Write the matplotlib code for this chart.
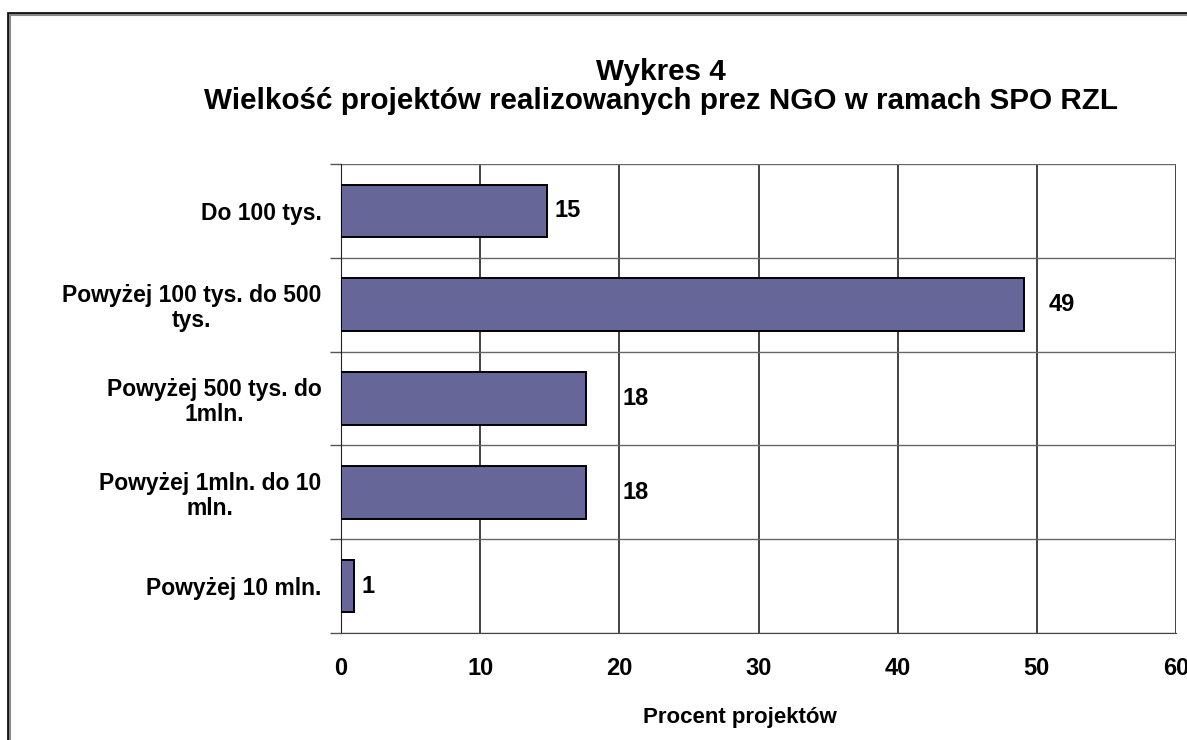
import matplotlib
matplotlib.use("Agg")
import matplotlib.pyplot as plt
from matplotlib.patches import Rectangle
import numpy as np

plt.rcParams["font.family"] = ["Liberation Sans", "DejaVu Sans"]
plt.rcParams["font.weight"] = "bold"

CATEGORIES = [
    "Do 100 tys.",
    "Powyżej 100 tys. do 500\ntys.",
    "Powyżej 500 tys. do\n1mln.",
    "Powyżej 1mln. do 10\nmln.",
    "Powyżej 10 mln.",
]
VALUES = [14.8, 49.1, 17.6, 17.6, 0.9]
LABELS = ["15", "49", "18", "18", "1"]
X_TICKS = [0, 10, 20, 30, 40, 50, 60]

# Excel put the value labels at uneven distances from the bar ends (pixels)
LABEL_PAD_PX = [8, 24, 37, 37, 8]

BAR_COLOR = "#666699"

fig = plt.figure(figsize=(11.87, 7.40), dpi=100)
W, H = 1187, 740

# outer chart-area frame, cut off at right and bottom like the source
fig.patches.append(Rectangle((9 / W, -0.1), 1.2, 1 - 14 / H + 0.1,
                             transform=fig.transFigure, fill=False,
                             edgecolor="#888888", linewidth=2.2, zorder=0))
fig.patches.append(Rectangle((8 / W, -0.1), 1.2, 1 - 13 / H + 0.1,
                             transform=fig.transFigure, fill=False,
                             edgecolor="black", linewidth=1.2, zorder=1))

ax = fig.add_axes([341 / W, 1 - 633 / H, (1176 - 341) / W, (633 - 164) / H])

y = np.arange(len(CATEGORIES))
ax.barh(y, VALUES, height=0.56, color=BAR_COLOR, edgecolor="black",
        linewidth=1.4, zorder=3)
ax.set_ylim(len(CATEGORIES) - 0.5, -0.5)
ax.set_xlim(0, 60)

for i, (v, lab) in enumerate(zip(VALUES, LABELS)):
    ax.annotate(lab, (v, i), xytext=(LABEL_PAD_PX[i] * 0.72, 0),
                textcoords="offset points", ha="left", va="center",
                fontsize=17, fontweight="bold")

ax.set_xticks(X_TICKS)
ax.set_yticks(y)
ax.set_yticklabels(CATEGORIES, fontsize=16.5, fontweight="bold",
                   multialignment="center", linespacing=1.1)
ax.set_yticks(np.arange(-0.5, len(CATEGORIES), 1), minor=True)
ax.tick_params(axis="y", which="major", length=0, pad=14)
ax.tick_params(axis="y", which="minor", length=8, width=1, color="#555555")
ax.tick_params(axis="x", length=0, pad=17, labelsize=17)
for t in ax.get_xticklabels():
    t.set_fontweight("bold")

ax.grid(axis="x", which="major", color="#222222", linewidth=1.2, zorder=1)
ax.grid(axis="y", which="minor", color="#666666", linewidth=1.0, zorder=1)

for side in ["top", "right"]:
    ax.spines[side].set_visible(False)
ax.spines["left"].set_color("#222222")
ax.spines["bottom"].set_color("#444444")

ax.set_xlabel("Procent projektów", fontsize=16, fontweight="bold")
ax.xaxis.set_label_coords(0.478, -0.158)

fig.text(0.557, 1 - 72 / H, "Wykres 4", ha="center", va="center",
         fontsize=21.3, fontweight="bold")
fig.text(0.557, 1 - 101 / H,
         "Wielkość projektów realizowanych prez NGO w ramach SPO RZL",
         ha="center", va="center", fontsize=21.3, fontweight="bold")

fig.savefig("out.png", dpi=100)
